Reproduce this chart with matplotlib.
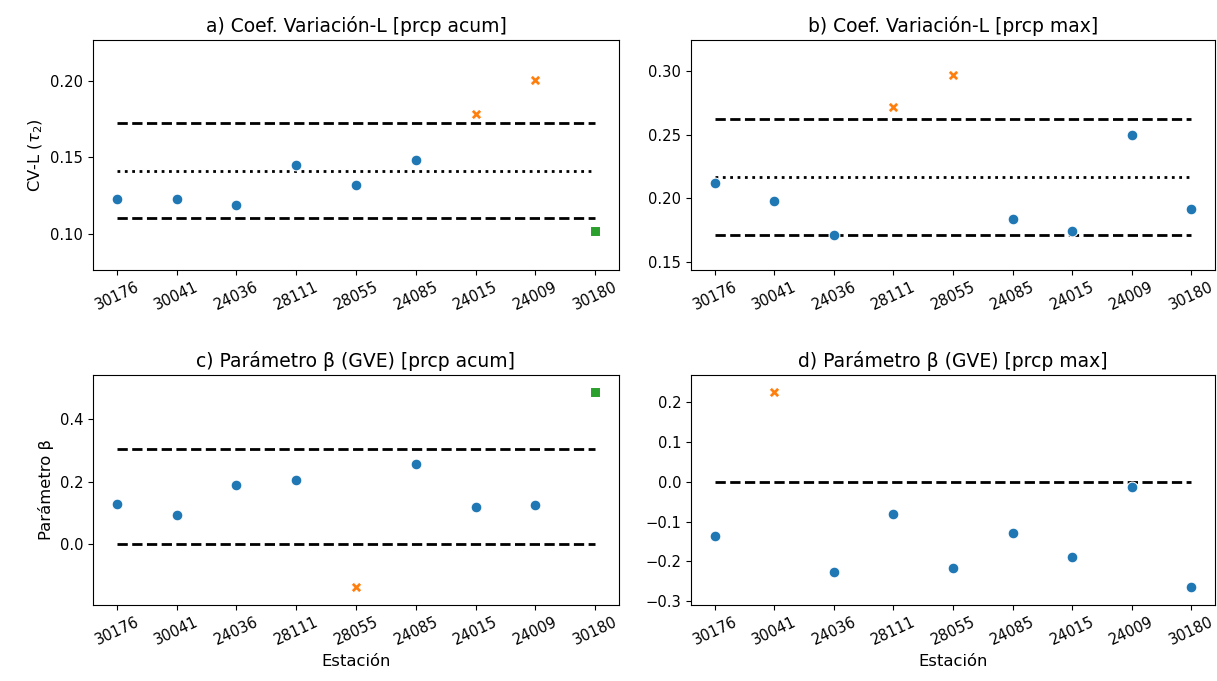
import numpy as np
import matplotlib
matplotlib.use('Agg')
import matplotlib.pyplot as plt

estaciones = ['30176', '30041', '24036', '28111', '28055', '24085', '24015', '24009', '30180']

# valor por estacion y grupo (0 = normal, 1 = fuera de limites, 2 = discordante)
cv_acum = [0.1228, 0.1226, 0.1189, 0.1449, 0.1316, 0.1480, 0.1783, 0.2002, 0.1020]
cv_acum_grp = [0, 0, 0, 0, 0, 0, 1, 1, 2]
cv_acum_lim = [0.1100, 0.1726]
cv_acum_med = 0.1412

cv_max = [0.2116, 0.1979, 0.1711, 0.2718, 0.2968, 0.1832, 0.1745, 0.2497, 0.1913]
cv_max_grp = [0, 0, 0, 1, 1, 0, 0, 0, 0]
cv_max_lim = [0.1711, 0.2624]
cv_max_med = 0.2163

beta_acum = [0.1294, 0.0923, 0.1889, 0.2058, -0.1369, 0.2557, 0.1199, 0.1252, 0.4859]
beta_acum_grp = [0, 0, 0, 0, 1, 0, 0, 0, 2]
beta_acum_lim = [0.0, 0.3045]

beta_max = [-0.1358, 0.2251, -0.2272, -0.0821, -0.2163, -0.1299, -0.1886, -0.0126, -0.2649]
beta_max_grp = [0, 1, 0, 0, 0, 0, 0, 0, 0]
beta_max_lim = [0.0]

colores = ['#1f77b4', '#ff7f0e', '#2ca02c']
marcadores = ['o', 'X', 's']

fig = plt.figure(figsize=(12.17, 6.81), dpi=100)
W, H = 1217, 681
def caja(x0, x1, y0, y1):
    return [x0 / W, 1 - y1 / H, (x1 - x0) / W, (y1 - y0) / H]

ax_a = fig.add_axes(caja(93, 619, 40, 270))
ax_b = fig.add_axes(caja(691, 1215, 40, 270))
ax_c = fig.add_axes(caja(93, 619, 375, 605))
ax_d = fig.add_axes(caja(691, 1215, 375, 605))

paneles = [
    (ax_a, cv_acum, cv_acum_grp, cv_acum_lim, cv_acum_med, 'a) Coef. Variación-L [prcp acum]', (0.0763, 0.2265)),
    (ax_b, cv_max, cv_max_grp, cv_max_lim, cv_max_med, 'b) Coef. Variación-L [prcp max]', (0.1434, 0.3245)),
    (ax_c, beta_acum, beta_acum_grp, beta_acum_lim, None, 'c) Parámetro β (GVE) [prcp acum]', (-0.193, 0.539)),
    (ax_d, beta_max, beta_max_grp, beta_max_lim, None, 'd) Parámetro β (GVE) [prcp max]', (-0.31, 0.2687)),
]

x = np.arange(len(estaciones))
for ax, vals, grp, lims, med, titulo, ylim in paneles:
    vals = np.array(vals)
    grp = np.array(grp)
    for g in range(3):
        m = grp == g
        if not m.any():
            continue
        if g == 1:
            ax.scatter(x[m], vals[m], s=60, marker='X', color=colores[g],
                       edgecolors='white', linewidths=0.75, zorder=3)
        else:
            ax.scatter(x[m], vals[m], s=60, marker=marcadores[g], color=colores[g],
                       edgecolors='white', linewidths=0.75, zorder=3)
    for v in lims:
        ax.plot([0, len(estaciones) - 1], [v, v], color='black', ls='--', lw=2, zorder=2)
    if med is not None:
        ax.plot([0, len(estaciones) - 1], [med, med], color='black', ls=':', lw=2, zorder=2)
    ax.set_xticks(x)
    ax.set_xticklabels(estaciones, rotation=25, fontsize=10.6)
    ax.tick_params(axis='y', labelsize=10.6)
    ax.set_xlim(-0.4, len(estaciones) - 0.6)
    ax.set_ylim(*ylim)
    ax.set_title(titulo, fontsize=13.5)

ax_b.set_yticks([0.15, 0.20, 0.25, 0.30])
ax_a.set_yticks([0.10, 0.15, 0.20])
ax_c.set_yticks([0.0, 0.2, 0.4])
ax_d.set_yticks([-0.3, -0.2, -0.1, 0.0, 0.1, 0.2])

ax_a.set_ylabel(r'CV-L ($\tau_2$)', fontsize=11.8)
ax_c.set_ylabel('Parámetro β', fontsize=11.8)
ax_c.set_xlabel('Estación', fontsize=11.8)
ax_d.set_xlabel('Estación', fontsize=11.8)

fig.savefig('out.png', dpi=100, facecolor='white')
